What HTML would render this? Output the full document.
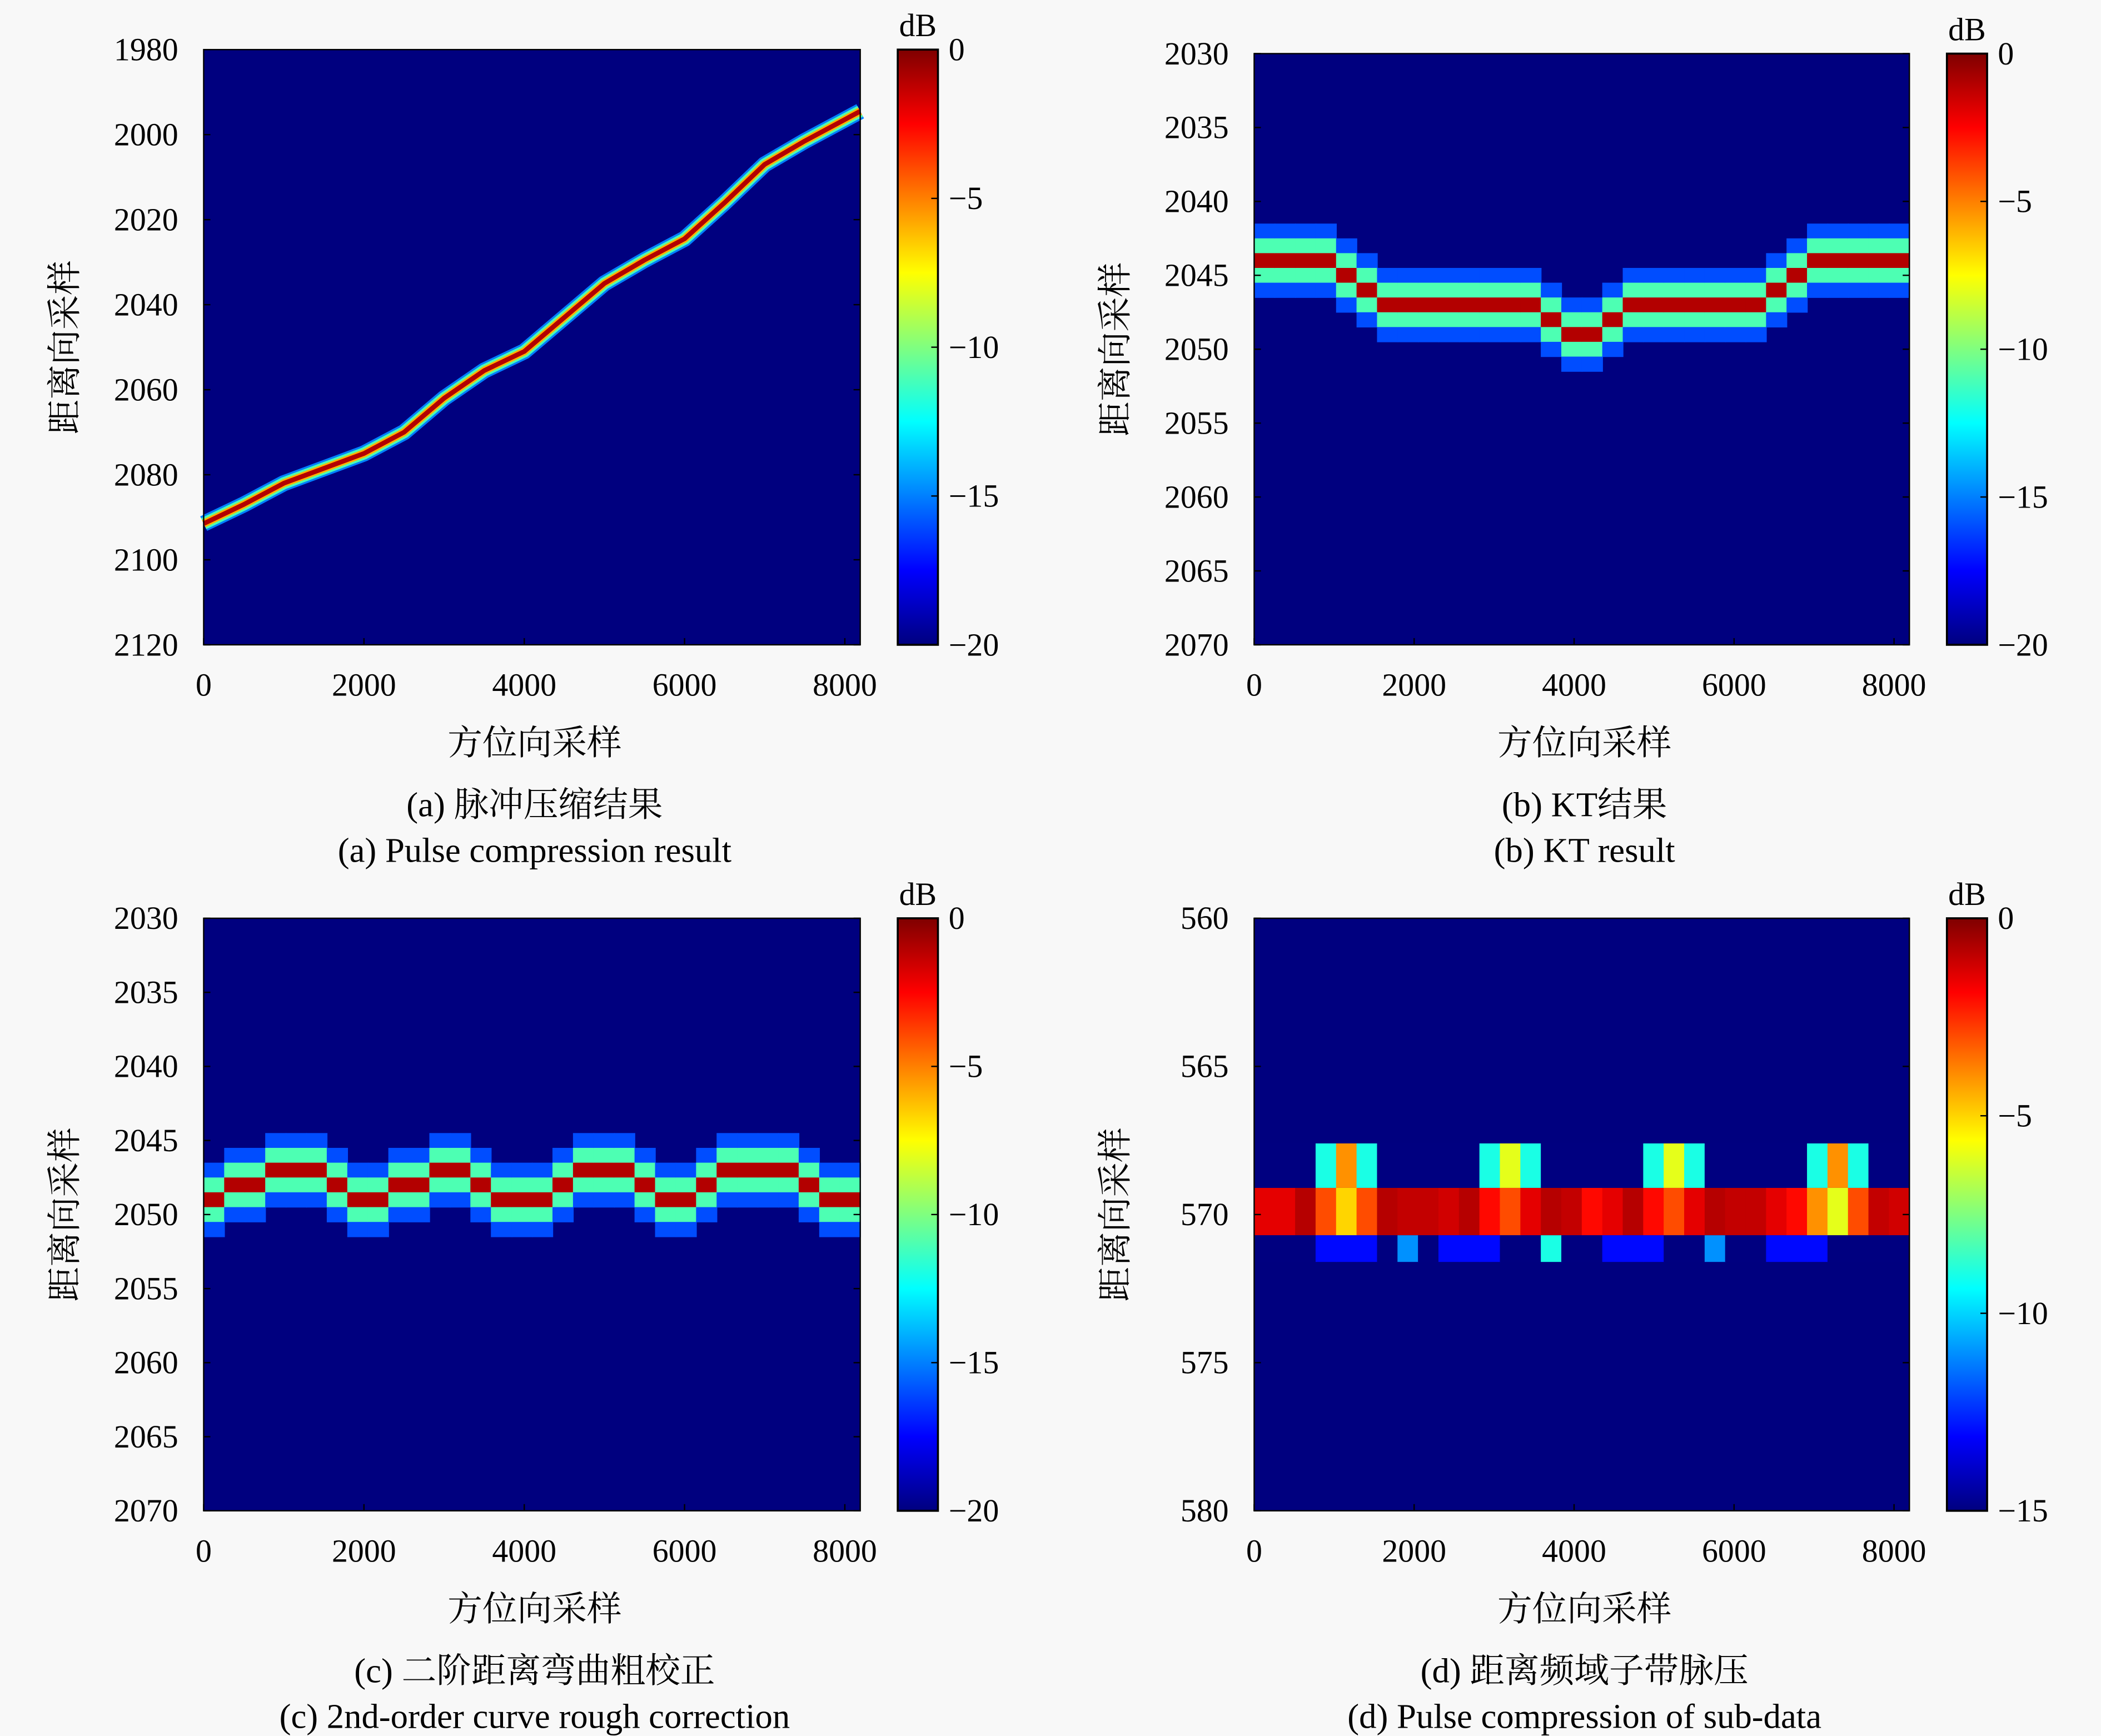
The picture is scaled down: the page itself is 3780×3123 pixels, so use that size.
<!DOCTYPE html>
<html><head><meta charset="utf-8"><style>
html,body{margin:0;padding:0;background:#f8f8f8;}
svg{display:block;}
text{font-family:"Liberation Serif","Noto Serif CJK SC",serif;fill:#000;}
</style></head><body>
<svg id="fig" width="3780" height="3123" viewBox="0 0 1568 1295" preserveAspectRatio="none" xmlns="http://www.w3.org/2000/svg" font-family="Liberation Serif, Noto Serif CJK SC, serif">
<rect width="1568" height="1295" fill="#f8f8f8"/>
<defs><linearGradient id="jet" x1="0" y1="1" x2="0" y2="0">
<stop offset="0" stop-color="#00007f"/><stop offset="0.125" stop-color="#0000ff"/><stop offset="0.375" stop-color="#00ffff"/><stop offset="0.625" stop-color="#ffff00"/><stop offset="0.875" stop-color="#ff0000"/><stop offset="1" stop-color="#7f0000"/></linearGradient></defs>
</svg>
<script>
// ---- data ----
const xTicks=[0,2000,4000,6000,8000];
const aYTicks=[1980,2000,2020,2040,2060,2080,2100,2120];
const bYTicks=[2030,2035,2040,2045,2050,2055,2060,2065,2070];
const dYTicks=[560,565,570,575,580];
const cbTicks20=[0,-5,-10,-15,-20];
const cbTicks15=[0,-5,-10,-15];
const aSamples=[0,500,1000,1500,2000,2500,3000,3500,4000,4500,5000,5500,6000,6500,7000,7500,8192];
const aRange=[2091.5,2087,2082,2078.5,2075,2070,2062,2055.5,2051,2043,2035,2029.5,2024.5,2016,2007,2001.5,1994.5];
const bCenter=[2044,2044,2044,2044,2045,2046,2047,2047,2047,2047,2047,2047,2047,2047,2048,2049,2049,2048,2047,2047,2047,2047,2047,2047,2047,2046,2045,2044,2044,2044,2044,2044];
const cCenter=[2049,2048,2048,2047,2047,2047,2048,2049,2049,2048,2048,2047,2047,2048,2049,2049,2049,2048,2047,2047,2047,2048,2049,2049,2048,2047,2047,2047,2047,2048,2049,2049];
const profileOffsets=[-2,-1,0,1,2];
const profileDb=[-16,-11,-1,-11,-16];
const dMain=[-1.5,-1.5,-0.8,-3,-5,-3,-0.8,-1,-1,-1.2,-0.8,-2,-3,-1.5,-0.8,-1,-2,-1.5,-0.8,-2,-3,-1.5,-0.8,-1,-1,-1.5,-2,-4,-6,-3,-1,-1.2];
const dTop=[-16,-16,-16,-9,-4,-9,-16,-16,-16,-16,-16,-9,-6,-9,-16,-16,-16,-16,-16,-9,-6,-9,-16,-16,-16,-16,-16,-9,-4,-9,-16,-16];
const dBot=[-16,-16,-16,-13,-13,-13,-16,-11,-16,-13,-13,-13,-16,-16,-9,-16,-16,-13,-13,-13,-16,-16,-11,-16,-16,-13,-13,-13,-16,-16,-16,-16];

const NS="http://www.w3.org/2000/svg";
const svg=document.getElementById('fig');
const FONT='"Liberation Serif","Noto Serif CJK SC",serif';
function el(tag,attrs,parent,txt){const e=document.createElementNS(NS,tag);for(const k in attrs)e.setAttribute(k,attrs[k]);if(txt!==undefined){e.textContent=txt;e.style.fontFamily=FONT;}(parent||svg).appendChild(e);return e;}
function clamp(v){return Math.max(0,Math.min(1,v));}
function jet(v){const r=clamp(1.5-Math.abs(4*v-3)),g=clamp(1.5-Math.abs(4*v-2)),b=clamp(1.5-Math.abs(4*v-1));return `rgb(${Math.round(r*255)},${Math.round(g*255)},${Math.round(b*255)})`;}

function panel(p){
  const g=el('g',{});
  
  
  const X=v=>p.x0+(v/8192)*(p.x1-p.x0);
  const Y=v=>p.y0+(v-p.ymin)/(p.ymax-p.ymin)*(p.y1-p.y0);
  const cbv=db=>clamp((db-p.cbMin)/(-p.cbMin));
  const bg=el('rect',{x:p.x0,y:p.y0,width:p.x1-p.x0,height:p.y1-p.y0,fill:'#00007f'},g);
  
  
  const marks=el('g',{},g);
  
  
  p.draw(marks,X,Y,cbv);
  const fr=el('rect',{x:p.x0,y:p.y0,width:p.x1-p.x0,height:p.y1-p.y0,fill:'none',stroke:'#000','stroke-width':1},g);
  
  
  xTicks.forEach(t=>{const x=X(t);
    el('line',{x1:x,x2:x,y1:p.y1,y2:p.y1-5,stroke:'#000'},g);
    const tx=el('text',{x:x,y:p.y1+38,'font-size':24,'text-anchor':'middle'},g,String(t));
    
    });
  p.yTicks.forEach(t=>{const y=Y(t);
    el('line',{x1:p.x0,x2:p.x0+5,y1:y,y2:y,stroke:'#000'},g);
    el('line',{x1:p.x1,x2:p.x1-5,y1:y,y2:y,stroke:'#000'},g);
    const tx=el('text',{x:p.x0-19,y:y+8,'font-size':24,'text-anchor':'end'},g,String(t));
    
    });
  const xl=el('text',{x:(p.x0+p.x1)/2+2,y:p.y1+82,'font-size':26,'text-anchor':'middle'},g,'方位向采样');
  
  
  const yl=el('text',{x:0,y:0,'font-size':26,'text-anchor':'middle',transform:`translate(${p.x0-95},${(p.y0+p.y1)/2}) rotate(-90)`},g,'距离向采样');
  
  
  const cx=p.x1+28,cw=30;
  const cb=el('rect',{x:cx,y:p.y0,width:cw,height:p.y1-p.y0,fill:'url(#jet)',stroke:'#000','stroke-width':1.5},g);
  
  
  p.cbTicks.forEach(t=>{const y=p.y0+(t/p.cbMin)*(p.y1-p.y0);
    el('line',{x1:cx+cw-5,x2:cx+cw,y1:y,y2:y,stroke:'#000'},g);
    const tx=el('text',{x:cx+cw+8,y:y+8,'font-size':24},g,t===0?'0':'−'+(-t));
    
    });
  const db=el('text',{x:cx+cw/2,y:p.y0-10,'font-size':24,'text-anchor':'middle'},g,'dB');
  
  
  const c1=el('text',{x:(p.x0+p.x1)/2+2,y:p.y1+128,'font-size':26,'text-anchor':'middle'},g,p.cap1);
  
  
  const c2=el('text',{x:(p.x0+p.x1)/2+2,y:p.y1+162,'font-size':26,'text-anchor':'middle'},g,p.cap2);
  
  
}

function bandDraw(centers){
  return (m,X,Y,cbv)=>{
    centers.forEach((c,i)=>{
      profileOffsets.forEach((o,k)=>{
        const r=el('rect',{x:X(i*256),y:Y(c+o-0.5),width:X(256)-X(0)+0.5,height:Y(1)-Y(0)+0.3,fill:jet(cbv(profileDb[k]))},m);
        
        
      });
    });
  };
}

panel({name:'panel-a',x0:152,x1:642,y0:37,y1:481,ymin:1980,ymax:2120,yTicks:aYTicks,cbTicks:cbTicks20,cbMin:-20,
  cap1:'(a) 脉冲压缩结果',cap2:'(a) Pulse compression result',
  draw:(m,X,Y,cbv)=>{
    const pts=aSamples.map((s,i)=>X(s)+','+Y(aRange[i])).join(' ');
    [[12,-15],[9,-11],[6,-6],[3.5,-1]].forEach(([w,d])=>{
      const l=el('polyline',{points:pts,fill:'none',stroke:jet(cbv(d)),'stroke-width':w,'stroke-linejoin':'round'},m);
      
      
    });
  }});
panel({name:'panel-b',x0:936,x1:1425,y0:40,y1:481,ymin:2030,ymax:2070,yTicks:bYTicks,cbTicks:cbTicks20,cbMin:-20,
  cap1:'(b) KT结果',cap2:'(b) KT result',draw:bandDraw(bCenter)});
panel({name:'panel-c',x0:152,x1:642,y0:685,y1:1127,ymin:2030,ymax:2070,yTicks:bYTicks,cbTicks:cbTicks20,cbMin:-20,
  cap1:'(c) 二阶距离弯曲粗校正',cap2:'(c) 2nd-order curve rough correction',draw:bandDraw(cCenter)});
panel({name:'panel-d',x0:936,x1:1425,y0:685,y1:1127,ymin:560,ymax:580,yTicks:dYTicks,cbTicks:cbTicks15,cbMin:-15,
  cap1:'(d) 距离频域子带脉压',cap2:'(d) Pulse compression of sub-data',
  draw:(m,X,Y,cbv)=>{
    const w=X(256)-X(0)+0.5;
    dMain.forEach((v,i)=>{
      const r=el('rect',{x:X(i*256),y:Y(569.1),width:w,height:Y(570.7)-Y(569.1),fill:jet(cbv(v))},m);
      
      
      const t=el('rect',{x:X(i*256),y:Y(567.6),width:w,height:Y(569.1)-Y(567.6),fill:jet(cbv(dTop[i]))},m);
      
      
      const b=el('rect',{x:X(i*256),y:Y(570.7),width:w,height:Y(571.6)-Y(570.7),fill:jet(cbv(dBot[i]))},m);
      
      
    });
  }});
</script>
</body></html>
